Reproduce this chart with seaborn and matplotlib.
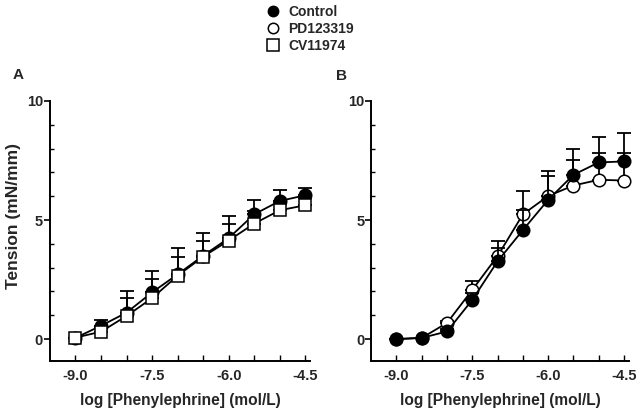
import matplotlib
matplotlib.use("Agg")
import matplotlib.pyplot as plt
from matplotlib.lines import Line2D
import seaborn as sns
import pandas as pd

# log [Phenylephrine] (mol/L)
log_conc = [-9.0, -8.5, -8.0, -7.5, -7.0, -6.5, -6.0, -5.5, -5.0, -4.5]

# panel A: Control vs CV11974
a_control = [0.05, 0.56, 1.11, 1.96, 2.72, 3.50, 4.24, 5.24, 5.80, 6.04]
a_control_err = [0.0, 0.24, 0.92, 0.91, 1.10, 0.96, 0.93, 0.60, 0.45, 0.30]
a_cv = [0.06, 0.31, 0.97, 1.72, 2.66, 3.46, 4.14, 4.85, 5.41, 5.62]
a_cv_err = [0.0, 0.20, 0.75, 0.80, 0.80, 0.68, 0.68, 0.53, 0.35, 0.30]

# panel B: Control vs PD123319
b_control = [0.0, 0.05, 0.32, 1.65, 3.27, 4.58, 5.85, 6.90, 7.42, 7.46]
b_control_err = [0.0, 0.0, 0.10, 0.30, 0.56, 0.84, 1.00, 1.10, 1.06, 1.20]
b_pd = [0.0, 0.05, 0.68, 2.07, 3.49, 5.24, 6.01, 6.45, 6.69, 6.66]
b_pd_err = [0.0, 0.0, 0.10, 0.39, 0.64, 1.00, 1.07, 1.09, 1.13, 1.16]

labels = ['Control', 'PD123319', 'CV11974']

sns.set_theme(style='ticks')
plt.rcParams['font.family'] = ['Liberation Sans', 'DejaVu Sans']
plt.rcParams['font.weight'] = 'bold'
plt.rcParams['axes.labelweight'] = 'bold'

fig = plt.figure(figsize=(6.4, 4.11), dpi=100)
ax_a = fig.add_axes([0.078, 0.1217, 0.407, 0.6326])
ax_b = fig.add_axes([0.580, 0.1217, 0.403, 0.6326])


def draw_series(ax, y, err, marker, face, z):
    df = pd.DataFrame({'x': log_conc, 'y': y})
    ax.errorbar(df['x'], df['y'], yerr=[[0] * len(err), err], fmt='none',
                ecolor='black', elinewidth=1.3, capsize=5, capthick=1.3,
                zorder=z, clip_on=False)
    sns.lineplot(data=df, x='x', y='y', ax=ax, color='black', linewidth=1.3,
                 marker=marker, markersize=9, markerfacecolor=face,
                 markeredgecolor='black', markeredgewidth=1.1, zorder=z + 0.5,
                 clip_on=False)


draw_series(ax_a, a_control, a_control_err, 'o', 'black', 2)
draw_series(ax_a, a_cv, a_cv_err, 's', 'white', 4)
draw_series(ax_b, b_pd, b_pd_err, 'o', 'white', 2)
draw_series(ax_b, b_control, b_control_err, 'o', 'black', 4)

for ax in (ax_a, ax_b):
    ax.set_xlim(-9.5, -4.4)
    ax.set_ylim(-0.92, 10)
    ax.set_xticks([-9.0, -7.5, -6.0, -4.5])
    ax.set_xticklabels(['-9.0', '-7.5', '-6.0', '-4.5'])
    ax.set_xticks([-8.5, -8.0, -7.0, -6.5, -5.5, -5.0], minor=True)
    ax.set_yticks([0, 5, 10])
    ax.set_yticklabels(['0', '5', '10'])
    ax.set_yticks([1, 2, 3, 4, 6, 7, 8, 9], minor=True)
    ax.tick_params(axis='x', which='both', direction='in', length=4, width=1.0,
                   color='black', labelsize=10.5, pad=6)
    ax.tick_params(axis='y', which='major', direction='out', length=4, width=1.2,
                   color='black', labelsize=10.5, pad=1)
    ax.tick_params(axis='y', which='minor', direction='in', length=3, width=1.0,
                   color='black')
    for lab in ax.get_xticklabels() + ax.get_yticklabels():
        lab.set_fontweight('bold')
    for s in ('left', 'bottom'):
        ax.spines[s].set_linewidth(1.4)
        ax.spines[s].set_color('black')
    sns.despine(ax=ax)
    ax.set_xlabel('log [Phenylephrine] (mol/L)', fontsize=11.2, fontweight='bold', labelpad=7)
    ax.set_ylabel('')

fig.text(0.021, 0.474, 'Tension (mN/mm)', rotation=90, ha='center', va='center',
         fontsize=12.5, fontweight='bold')
fig.text(0.028, 0.817, 'A', ha='center', va='center', fontsize=11, fontweight='bold')
fig.text(0.534, 0.815, 'B', ha='center', va='center', fontsize=11, fontweight='bold')

handles = [
    Line2D([], [], linestyle='none', marker='o', markersize=7.5, markerfacecolor='black',
           markeredgecolor='black'),
    Line2D([], [], linestyle='none', marker='o', markersize=7.5, markerfacecolor='white',
           markeredgecolor='black', markeredgewidth=1.1),
    Line2D([], [], linestyle='none', marker='s', markersize=8, markerfacecolor='white',
           markeredgecolor='black', markeredgewidth=1.1),
]
fig.legend(handles, labels, loc='upper left', bbox_to_anchor=(0.40, 1.012),
           frameon=False, prop={'size': 10, 'weight': 'bold'}, handlelength=1.0,
           handletextpad=0.6, labelspacing=0.22, borderpad=0.2)

fig.savefig('out.png', dpi=100)
